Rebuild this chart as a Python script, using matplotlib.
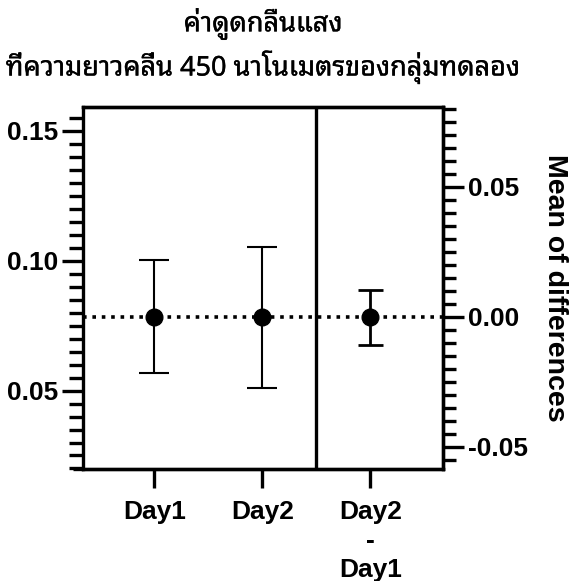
import matplotlib
matplotlib.use("Agg")
import matplotlib.pyplot as plt
import matplotlib.patheffects as pe
from matplotlib.ticker import MultipleLocator
from matplotlib.lines import Line2D

# Absorbance at 450 nm: group means with 95% CI, plus the paired difference
groups = ["Day1", "Day2"]
group_means = [0.0784, 0.0782]
group_lower = [0.0567, 0.0510]
group_upper = [0.1002, 0.1053]

diff_label = "Day2\n-\nDay1"
diff_mean = -0.0002
diff_lower = -0.0108
diff_upper = 0.0103

left_ylim = (0.0198, 0.1592)
left_ticks = [0.05, 0.10, 0.15]
right_ticks = [-0.05, 0.00, 0.05]

title_lines = ["ค่าดูดกลืนแสง", "ที่ความยาวคลื่น 450 นาโนเมตรของกลุ่มทดลอง"]
right_label = "Mean of differences"

BOLD = dict(family=["Liberation Sans", "DejaVu Sans"], weight="bold")
THAI = ["Noto Sans Thai Looped", "Noto Sans Thai", "DejaVu Sans"]

fig = plt.figure(figsize=(5.77, 5.81), dpi=100)
ax = fig.add_axes([83 / 577, 1 - 469 / 581, 360 / 577, 362 / 581])

xpos = [1, 2]
xdiff = 3
ax.set_xlim(0.34, 3.673)
ax.set_ylim(*left_ylim)

# group estimates
for x, m, lo, hi in zip(xpos, group_means, group_lower, group_upper):
    ax.errorbar([x], [m], yerr=[[m - lo], [hi - m]], fmt="o", color="black",
                ms=12, elinewidth=1.5, capsize=11, capthick=1.5, zorder=4)

# secondary axis for the difference, zero aligned with the first group mean
ref = group_means[0]
ax2 = ax.twinx()
ax2.set_ylim(left_ylim[0] - ref, left_ylim[1] - ref)
ax2.errorbar([xdiff], [diff_mean], yerr=[[diff_mean - diff_lower], [diff_upper - diff_mean]],
             fmt="o", color="black", ms=12, elinewidth=2.0, capsize=9, capthick=2.0, zorder=4)

# reference line at the first group mean
ax.axhline(ref, color="black", ls=(0, (1, 1.6)), lw=2.6, zorder=3)
# divider between groups and the difference panel
ax.axvline(2.5, color="black", lw=2.4, zorder=3)

for a in (ax, ax2):
    for s in a.spines.values():
        s.set_linewidth(2.4)
ax2.spines["left"].set_visible(False)

# extend the baseline a little past the left axis
ax.add_line(Line2D([-10 / 360, 0], [0, 0], transform=ax.transAxes, color="black",
                   lw=2.4, clip_on=False, solid_capstyle="butt"))

ax.set_yticks(left_ticks)
ax.yaxis.set_minor_locator(MultipleLocator(0.005))
ax.set_yticklabels([f"{v:.2f}" for v in left_ticks], fontsize=19, **BOLD)
ax.tick_params(axis="y", which="major", length=15, width=2.4, pad=3)
ax.tick_params(axis="y", which="minor", length=10, width=2.4)

ax2.set_yticks(right_ticks)
ax2.yaxis.set_minor_locator(MultipleLocator(0.005))
ax2.set_yticklabels([f"{v:.2f}" for v in right_ticks], fontsize=19, **BOLD)
ax2.tick_params(axis="y", which="major", length=15, width=2.4, pad=3)
ax2.tick_params(axis="y", which="minor", length=9, width=2.4)

ax.set_xticks(xpos + [xdiff])
ax.set_xticklabels(groups + [diff_label], fontsize=19, linespacing=1.28, **BOLD)
ax.tick_params(axis="x", length=14, width=2.4, pad=8)

ax2.set_ylabel(right_label, rotation=270, fontsize=20.5, labelpad=29, **BOLD)

# two-line Thai title, strokes thickened a touch
thicken = [pe.withStroke(linewidth=0.25, foreground="black")]
fig.text(263 / 577, 1 - 24 / 581, title_lines[0], ha="center", va="center",
         fontsize=19.5, family=THAI, path_effects=thicken)
fig.text(263 / 577, 1 - 67 / 581, title_lines[1], ha="center", va="center",
         fontsize=19.5, family=THAI, path_effects=thicken)

fig.savefig("out.png", dpi=100)
